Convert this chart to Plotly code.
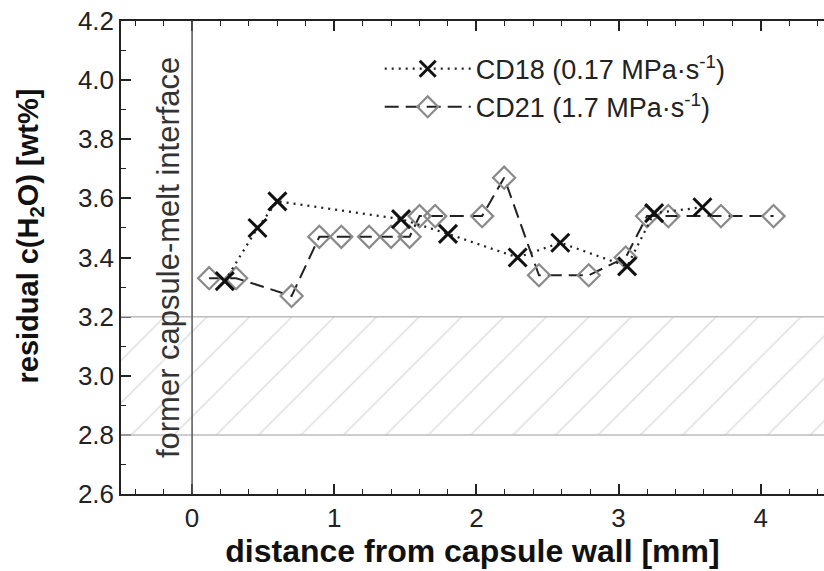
import plotly.graph_objects as go

# ---- data ----
cd18_x = [0.23, 0.46, 0.60, 1.47, 1.80, 2.29, 2.59, 3.06, 3.25, 3.59]
cd18_y = [3.32, 3.50, 3.59, 3.53, 3.48, 3.40, 3.45, 3.37, 3.55, 3.57]

cd21_x = [0.12, 0.31, 0.70, 0.895, 1.05, 1.245, 1.40, 1.53, 1.60, 1.71,
          2.04, 2.195, 2.44, 2.79, 3.05, 3.20, 3.35, 3.72, 4.09]
cd21_y = [3.33, 3.33, 3.27, 3.47, 3.47, 3.47, 3.47, 3.47, 3.54, 3.54,
          3.54, 3.67, 3.34, 3.34, 3.40, 3.54, 3.54, 3.54, 3.54]

band_low, band_high = 2.8, 3.2          # hatched range
interface_x = 0.0                        # former capsule-melt interface
x_range = [-0.5, 4.445]
y_range = [2.6, 4.2]

series_names = ["CD18 (0.17 MPa·s<sup>-1</sup>)", "CD21 (1.7 MPa·s<sup>-1</sup>)"]
x_title = "<b>distance from capsule wall [mm]</b>"
y_title = "<b>residual c(H<sub>2</sub>O) [wt%]</b>"
interface_label = "former capsule-melt interface"

FONT = "Liberation Sans, Arial, sans-serif"

fig = go.Figure()

# hatched band
fig.add_trace(go.Scatter(
    x=[x_range[0], x_range[1], x_range[1], x_range[0], x_range[0]],
    y=[band_low, band_low, band_high, band_high, band_low],
    mode="lines", fill="toself",
    fillcolor="rgba(0,0,0,0)",
    fillpattern=dict(shape="/", size=30, solidity=0.05,
                     fgcolor="#bdbdbd", bgcolor="white"),
    line=dict(width=0), showlegend=False, hoverinfo="skip"))

for yb in (band_low, band_high):
    fig.add_shape(type="line", xref="paper", x0=0, x1=1, yref="y", y0=yb, y1=yb,
                  line=dict(color="#bcbcbc", width=1.5), layer="above")

# interface line
fig.add_shape(type="line", xref="x", x0=interface_x, x1=interface_x,
              yref="paper", y0=0, y1=1, line=dict(color="#555555", width=1.5))
fig.add_annotation(x=interface_x, xref="x", y=0.5, yref="paper",
                   text=interface_label, textangle=-90,
                   showarrow=False, xanchor="right", yanchor="middle", xshift=-4,
                   font=dict(family=FONT, size=31, color="#333333"))

# y-axis title as annotation (slightly above plot centre like the reference)
fig.add_annotation(x=-0.129, xref="paper", y=0.545, yref="paper",
                   text=y_title, textangle=-90, showarrow=False,
                   xanchor="center", yanchor="middle",
                   font=dict(family=FONT, size=29, color="#111111"))

fig.add_trace(go.Scatter(
    x=cd21_x, y=cd21_y, mode="lines+markers", name=series_names[1],
    legendrank=2,
    line=dict(color="#222222", width=2, dash="14px,7px"),
    marker=dict(symbol="diamond-open", size=17, color="#8a8a8a",
                line=dict(color="#8a8a8a", width=2.2))))

fig.add_trace(go.Scatter(
    x=cd18_x, y=cd18_y, mode="lines+markers", name=series_names[0],
    legendrank=1,
    line=dict(color="#222222", width=2.2, dash="2px,5px"),
    marker=dict(symbol="x-thin", size=18, color="#111111",
                line=dict(color="#111111", width=3))))

fig.update_layout(
    width=824, height=571,
    margin=dict(l=121, r=0, t=21, b=77),
    paper_bgcolor="white", plot_bgcolor="white",
    font=dict(family=FONT, color="#222222"),
    legend=dict(x=0.368, y=0.95, xanchor="left", yanchor="top",
                bgcolor="rgba(255,255,255,0)", itemwidth=86,
                font=dict(family=FONT, size=27, color="#222222"),
                tracegroupgap=0),
    xaxis=dict(range=x_range, dtick=1, tick0=0, ticks="inside", ticklen=10,
               tickwidth=1.5, tickcolor="#222", showline=True, linecolor="#222",
               linewidth=1.5, mirror="ticks", showgrid=False, zeroline=False,
               minor=dict(dtick=0.2, ticks="inside", ticklen=5, tickwidth=1.2,
                          tickcolor="#222"),
               tickfont=dict(family=FONT, size=26, color="#222"),
               title=dict(text=x_title,
                          font=dict(family=FONT, size=32, color="#111"), standoff=6)),
    yaxis=dict(range=y_range, dtick=0.2, tick0=2.6, tickformat=".1f", ticks="inside",
               ticklen=10, tickwidth=1.5, tickcolor="#222", showline=True,
               linecolor="#222", linewidth=1.5, mirror=False, showgrid=False,
               zeroline=False,
               minor=dict(dtick=0.1, ticks="inside", ticklen=5, tickwidth=1.2,
                          tickcolor="#222"),
               tickfont=dict(family=FONT, size=26, color="#222")),
    yaxis2=dict(range=y_range, overlaying="y", side="right", dtick=0.2, tick0=2.6,
                ticks="inside", ticklen=10, tickwidth=1.5, tickcolor="#222",
                showticklabels=False, showline=False, showgrid=False, zeroline=False,
                minor=dict(dtick=0.1, ticks="inside", ticklen=5, tickwidth=1.2,
                           tickcolor="#222")),
)

fig.write_html("out.html")
